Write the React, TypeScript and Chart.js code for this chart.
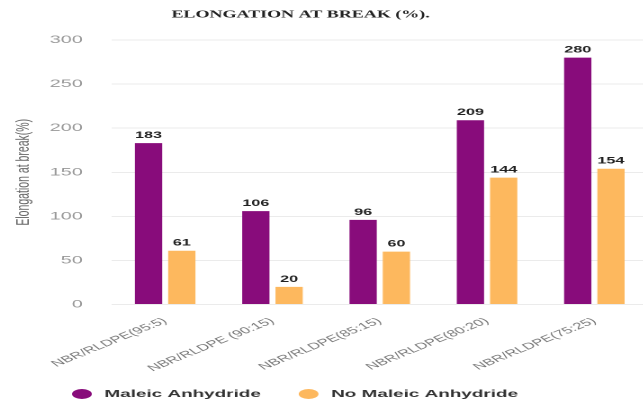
import React, { useEffect, useRef } from "react";
import { Chart, registerables } from "chart.js";

Chart.register(...registerables);

const categories = [
  "NBR/RLDPE(95:5)",
  "NBR/RLDPE (90:15)",
  "NBR/RLDPE(85:15)",
  "NBR/RLDPE(80:20)",
  "NBR/RLDPE(75:25)",
];
const maleicAnhydride = [183, 106, 96, 209, 280];
const noMaleicAnhydride = [61, 20, 60, 144, 154];
const seriesNames = ["Maleic Anhydride", "No Maleic Anhydride"];
const seriesColors = ["#880c7b", "#fdb85e"];
const chartTitle = "ELONGATION AT BREAK (%).";
const yAxisTitle = "Elongation at break(%)";

// The chart is drawn on a narrow canvas and widened horizontally on the page.
const STRETCH_X = 1.8;
const CANVAS_W = 360;
const CANVAS_H = 408;

// Value printed above each bar
const valueLabels = {
  id: "valueLabels",
  afterDatasetsDraw(chart: any) {
    const { ctx } = chart;
    ctx.save();
    ctx.font = "bold 9px 'Liberation Sans', Arial, sans-serif";
    ctx.fillStyle = "#222";
    ctx.textAlign = "center";
    ctx.textBaseline = "bottom";
    chart.data.datasets.forEach((ds: any, i: number) => {
      const meta = chart.getDatasetMeta(i);
      meta.data.forEach((bar: any, j: number) => {
        ctx.fillText(String(ds.data[j]), bar.x, bar.y - 3);
      });
    });
    ctx.restore();
  },
};

// Heading at the top and round-marker legend at the bottom
const headerAndLegend = {
  id: "headerAndLegend",
  afterDraw(chart: any) {
    const { ctx } = chart;
    ctx.save();
    ctx.font = "bold 10px 'Liberation Serif', 'Times New Roman', serif";
    ctx.fillStyle = "#222";
    ctx.textAlign = "center";
    ctx.textBaseline = "middle";
    ctx.fillText(chartTitle, 167, 15);

    ctx.font = "bold 10.5px 'Liberation Sans', Arial, sans-serif";
    ctx.textAlign = "left";
    let x = 40;
    const y = 394;
    chart.data.datasets.forEach((ds: any) => {
      ctx.fillStyle = ds.backgroundColor;
      ctx.beginPath();
      ctx.ellipse(x + 5.5, y, 5.5, 5, 0, 0, Math.PI * 2);
      ctx.fill();
      ctx.fillStyle = "#333";
      ctx.fillText(ds.label, x + 18, y);
      x += 18 + ctx.measureText(ds.label).width + 21;
    });
    ctx.restore();
  },
};

export default function App() {
  const canvasRef = useRef<HTMLCanvasElement | null>(null);

  useEffect(() => {
    if (!canvasRef.current) return;
    const chart = new Chart(canvasRef.current, {
      type: "bar",
      data: {
        labels: categories,
        datasets: [
          {
            label: seriesNames[0],
            data: maleicAnhydride,
            backgroundColor: seriesColors[0],
            categoryPercentage: 0.62,
            barPercentage: 0.82,
          },
          {
            label: seriesNames[1],
            data: noMaleicAnhydride,
            backgroundColor: seriesColors[1],
            categoryPercentage: 0.62,
            barPercentage: 0.82,
          },
        ],
      },
      options: {
        responsive: false,
        animation: false,
        devicePixelRatio: 2,
        layout: { padding: { top: 40, left: 5, right: 0, bottom: 31 } },
        plugins: {
          legend: { display: false },
          title: { display: false },
          tooltip: { enabled: false },
        },
        scales: {
          x: {
            grid: { display: false },
            border: { display: false },
            afterFit(scale: any) {
              scale.paddingLeft = 0;
              scale.paddingRight = 0;
            },
            ticks: {
              minRotation: 36,
              maxRotation: 36,
              padding: 3,
              color: "#777",
              font: { family: "'Liberation Sans', Arial, sans-serif", size: 9.2 },
            },
          },
          y: {
            min: 0,
            max: 300,
            afterFit(scale: any) {
              // only one tick padding is needed between labels and plot
              scale.width -= 16;
            },
            ticks: {
              stepSize: 50,
              padding: 16,
              color: "#999",
              font: { family: "'Liberation Sans', Arial, sans-serif", size: 11 },
            },
            grid: { color: "#ebebeb", drawTicks: false },
            border: { display: false },
            title: {
              display: true,
              text: yAxisTitle,
              color: "#666",
              padding: { top: 2, bottom: 8 },
              font: { family: "'Liberation Sans', Arial, sans-serif", size: 10.5 },
            },
          },
        },
      },
      plugins: [valueLabels, headerAndLegend],
    });
    return () => chart.destroy();
  }, []);

  return (
    <div
      style={{
        position: "absolute",
        left: 0,
        top: 0,
        width: 643,
        height: CANVAS_H,
        overflow: "hidden",
        background: "#fff",
      }}
    >
      <div
        style={{
          width: CANVAS_W,
          height: CANVAS_H,
          transform: `scaleX(${STRETCH_X})`,
          transformOrigin: "0 0",
        }}
      >
        <canvas ref={canvasRef} width={CANVAS_W} height={CANVAS_H} />
      </div>
    </div>
  );
}
